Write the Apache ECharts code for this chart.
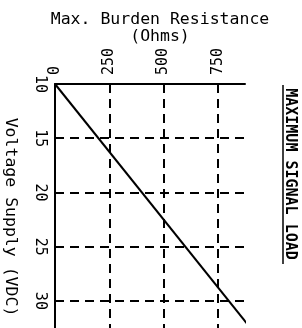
<!DOCTYPE html>
<html>
<head>
<meta charset="utf-8">
<script src="https://cdn.jsdelivr.net/npm/echarts@6/dist/echarts.min.js"></script>
<style>
html, body { margin: 0; padding: 0; background: #fff; }
#chart { width: 302px; height: 328px; }
</style>
</head>
<body>
<div id="chart"></div>
<script>
// load line: burden resistance vs supply voltage
var voltage = [10, 32.5];
var resistance = [0, 900];
var resTicks = [0, 250, 500, 750];
var voltTicks = [10, 15, 20, 25, 30];

var font = '"DejaVu Sans Mono", "Liberation Mono", monospace';
var dash = [9, 6];

var chart = echarts.init(document.getElementById('chart'));
chart.setOption({
    animation: false,
    backgroundColor: '#fff',
    title: {
        text: 'Max. Burden Resistance\n(Ohms)',
        left: 155,
        top: 6,
        textAlign: 'center',
        textStyle: { fontFamily: font, fontSize: 16.5, fontWeight: 'normal', color: '#000', lineHeight: 17 }
    },
    grid: { left: 55, top: 84, right: 57, bottom: 0 },
    xAxis: {
        type: 'value',
        position: 'top',
        min: 0,
        max: 875,
        interval: 250,
        axisLine: { show: true, lineStyle: { color: '#000', width: 2 } },
        axisTick: { show: false },
        axisLabel: {
            rotate: -90, margin: 9, showMaxLabel: false,
            fontFamily: font, fontSize: 15, color: '#000',
            formatter: function (v) { return resTicks.indexOf(v) >= 0 ? String(v) : ''; }
        },
        splitLine: { show: true, showMinLine: false, showMaxLine: false, lineStyle: { color: '#000', width: 2, type: dash } }
    },
    yAxis: {
        type: 'value',
        inverse: true,
        min: 10,
        max: 32.5,
        interval: 5,
        axisLine: { show: true, lineStyle: { color: '#000', width: 2 } },
        axisTick: { show: false },
        axisLabel: {
            rotate: -90, margin: 8, showMaxLabel: false,
            fontFamily: font, fontSize: 15, color: '#000',
            formatter: function (v) { return voltTicks.indexOf(v) >= 0 ? String(v) : ''; }
        },
        splitLine: { show: true, showMinLine: false, showMaxLine: false, lineStyle: { color: '#000', width: 2, type: dash } }
    },
    graphic: [
        {
            type: 'text', x: 10, y: 217, rotation: -Math.PI / 2,
            style: { text: 'Voltage Supply (VDC)', fontFamily: font, fontSize: 16.5, fill: '#000', align: 'center', verticalAlign: 'middle' }
        },
        {
            type: 'text', x: 290, y: 174, rotation: -Math.PI / 2,
            style: { text: 'MAXIMUM SIGNAL LOAD', fontFamily: font, fontSize: 15, fontWeight: 'bold', fill: '#000', align: 'center', verticalAlign: 'middle' }
        },
        {
            type: 'line', shape: { x1: 283, y1: 85, x2: 283, y2: 264 },
            style: { stroke: '#000', lineWidth: 1.5 }
        }
    ],
    series: [{
        type: 'line',
        data: resistance.map(function (r, i) { return [r, voltage[i]]; }),
        showSymbol: false,
        clip: false,
        lineStyle: { color: '#000', width: 2 }
    }]
});
</script>
</body>
</html>
